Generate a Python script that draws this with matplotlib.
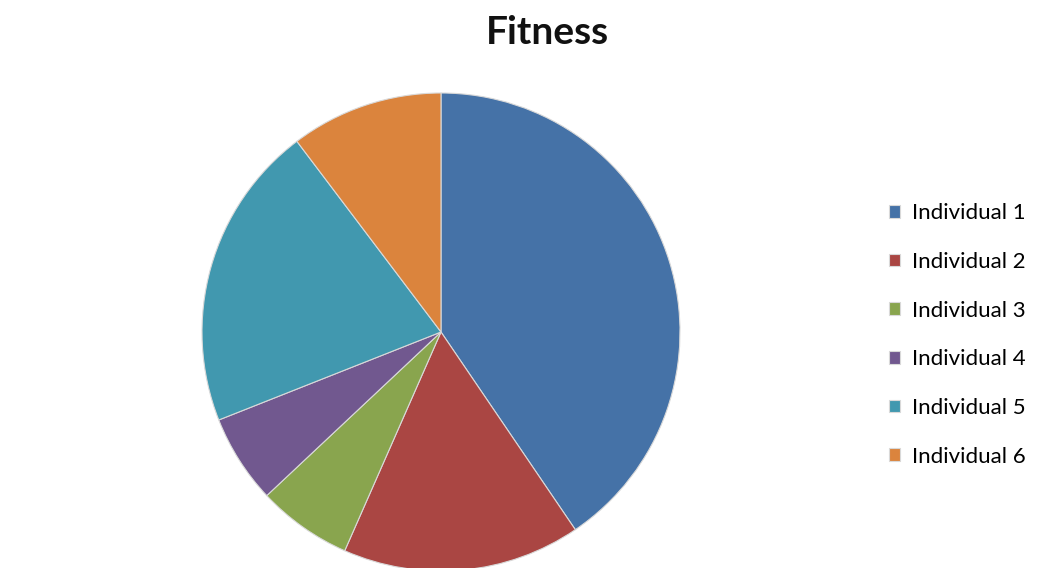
import matplotlib.pyplot as plt

# fitness share of each individual in the population
labels = ["Individual 1", "Individual 2", "Individual 3",
          "Individual 4", "Individual 5", "Individual 6"]
fitness = [40.5, 16.1, 6.4, 6.0, 20.7, 10.3]
colors = ["#4572a7", "#aa4643", "#89a54e", "#71588f", "#4198af", "#db843d"]

plt.rcParams['font.family'] = ['Lato', 'DejaVu Sans']

W, H = 1042, 568
fig = plt.figure(figsize=(W / 100, H / 100), dpi=100)

# pie centred at (441, 332) px, radius 239 px
cx, cy, r = 441, 332, 239
ax = fig.add_axes([(cx - r) / W, (H - cy - r) / H, 2 * r / W, 2 * r / H])
wedges, _ = ax.pie(fitness, colors=colors, startangle=90, counterclock=False,
                   radius=1.0,
                   wedgeprops=dict(edgecolor="#d9d9d9", linewidth=0.8))
ax.set_xlim(-1, 1)
ax.set_ylim(-1, 1)
ax.set_aspect("equal")
ax.axis("off")

fig.text(547 / W, 1 - 32 / H, "Fitness", ha="center", va="center",
         fontsize=28, fontweight="bold", color="#111111")

fig.legend(wedges, labels, loc="center left",
           bbox_to_anchor=(889 / W, 1 - 335 / H), frameon=False,
           fontsize=16, handlelength=0.5, handleheight=0.5,
           handletextpad=0.55, labelspacing=1.29, borderpad=0,
           borderaxespad=0)

fig.savefig("out.png", dpi=100, facecolor="white")
